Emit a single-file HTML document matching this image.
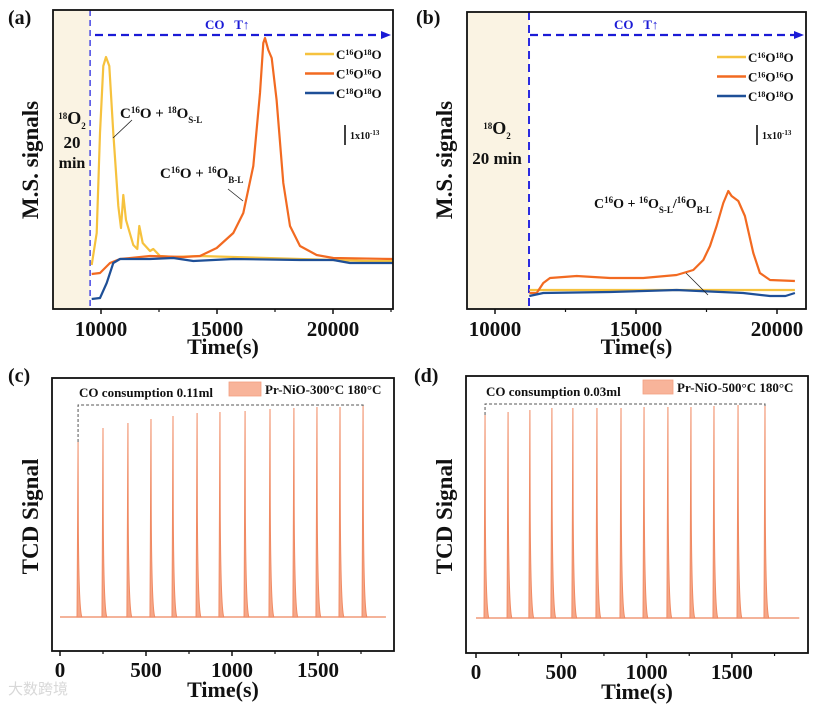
<!DOCTYPE html>
<html><head><meta charset="utf-8"><style>
html,body{margin:0;padding:0;background:#fff;}
svg{display:block;font-family:"Liberation Serif",serif;}
</style></head><body>
<svg id="fig" width="818" height="710" viewBox="0 0 818 710" xmlns="http://www.w3.org/2000/svg"></svg>
<script>
// ---- Panel (a) data ----
const aYellowT=[9599,9814,9957,10100,10216,10359,10531,10747,10861,10963,11078,11394,11566,11653,11796,12112,12256,12543,13118,14267,15704,17141,20012,21448,22598];
const aYellowV=[44,76,176,243,252,243,176,103,81,114,89,64,60,83,66,58,60,53,52,53,52,51,49,48,48];
const aOrangeT=[9599,9957,10388,10819,12112,13548,14267,14985,15704,16134,16565,16852,16996,17068,17212,17356,17571,17859,18146,18577,19295,20012,22598];
const aOrangeV=[35,36,46,50,53,52,53,61,76,96,143,216,266,271,259,251,209,126,83,63,54,51,50];
const aBlueT=[9599,9957,10244,10531,10819,12112,13118,13980,15704,18577,20012,20730,22598];
const aBlueV=[10,11,26,46,50,50,51,48,50,49,49,46,46];
const aTicks=[10000,15000,20000];
// ---- Panel (b) data ----
const bOrangeT=[11217,11478,11714,11950,12897,14078,15259,16441,17032,17386,17623,17859,18095,18272,18390,18627,18863,19158,19395,19750,20636];
const bOrangeV=[16,16,26,31,33,31,31,34,39,49,63,83,106,118,113,108,93,56,36,29,28];
const bYellowT=[11217,20636];
const bYellowV=[19,19];
const bBlueT=[11217,11714,14078,16441,18800,19750,20300,20636];
const bBlueV=[13,16,17,19,16,13,13,16];
const bTicks=[10000,15000,20000];
// ---- Panel (c) data ----
const cPeakT=[105,250,395,529,657,797,930,1076,1221,1360,1494,1628,1762];
const cPeakH=[175,189,194,198,201,204,205,206,208,209,210,210,211];
const cTicks=[0,500,1000,1500];
// ---- Panel (d) data ----
const dPeakT=[53,188,316,445,568,709,850,985,1125,1260,1395,1536,1694];
const dPeakH=[203,206,208,210,210,210,210,211,211,211,212,213,213];
const dTicks=[0,500,1000,1500];

const NS="http://www.w3.org/2000/svg";
const svg=document.getElementById('fig');
function mk(tag,attrs,parent){const e=document.createElementNS(NS,tag);for(const k in attrs)e.setAttribute(k,attrs[k]);(parent||svg).appendChild(e);return e;}
function txt(x,y,html,size,anchor,parent,extra){const e=mk('text',Object.assign({x:x,y:y,'font-size':size,'font-weight':'bold','text-anchor':anchor||'start',fill:'#111'},extra||{}),parent);e.innerHTML=html;return e;}
function lin(d0,d1,r0,r1){return v=>r0+(v-d0)/(d1-d0)*(r1-r0);}

function frame(name){
  const g=mk('g',{});
  
  
  return g;
}
function axes(g,L,T,R,B,xs,ticks,minor,labelY,titleY,ytitle,ytx,yty){
  const ax=mk('g',{},g);
  
  
  ticks.forEach(t=>{mk('line',{x1:xs(t),x2:xs(t),y1:B,y2:B+5,stroke:'#111','stroke-width':1.5},ax);
    const l=txt(xs(t),labelY,String(t),21,'middle',ax);
    
    });
  minor.forEach(t=>{const x=xs(t);if(x>L&&x<R)mk('line',{x1:x,x2:x,y1:B,y2:B+3,stroke:'#111','stroke-width':1.2},ax);});
  const tt=txt((L+R)/2,titleY,'Time(s)',22,'middle',ax);
  
  
  const yt=txt(ytx,yty,ytitle,23,'middle',g,{transform:`rotate(-90 ${ytx} ${yty})`});
  
  
}
function series(g,T,V,xs,ys,color,name){
  const d=T.map((t,i)=>(i?'L':'M')+xs(t).toFixed(1)+','+ys(V[i]).toFixed(1)).join(' ');
  const p=mk('path',{d:d,fill:'none',stroke:color,'stroke-width':2.2,'stroke-linejoin':'round'},g);
  
  
}
function legendMS(g,x,y0,color3){
  const labels=['C<tspan baseline-shift="super" font-size="8">16</tspan>O<tspan baseline-shift="super" font-size="8">18</tspan>O','C<tspan baseline-shift="super" font-size="8">16</tspan>O<tspan baseline-shift="super" font-size="8">16</tspan>O','C<tspan baseline-shift="super" font-size="8">18</tspan>O<tspan baseline-shift="super" font-size="8">18</tspan>O'];
  const lg=mk('g',{},g);
  
  
  labels.forEach((l,i)=>{const y=y0+i*19.5;
    const ln=mk('line',{x1:x,x2:x+29,y1:y,y2:y,stroke:color3[i],'stroke-width':2.5},lg);
    
    
    const t=txt(x+31,y+5,l,13,'start',lg);
    
    });
}
function scaleBar(g,x,y){
  mk('line',{x1:x,x2:x,y1:y,y2:y+20,stroke:'#111','stroke-width':1.6},g);
  const t=txt(x+5,y+14,'1x10<tspan baseline-shift="super" font-size="7">-13</tspan>',10,'start',g);
  
  
}
function coArrow(g,x0,x1,y,tx){
  const a=mk('line',{x1:x0,x2:x1-8,y1:y,y2:y,stroke:'#1b1bd6','stroke-width':2.2,'stroke-dasharray':'8,5'},g);
  
  
  mk('polygon',{points:`${x1},${y} ${x1-10},${y-4} ${x1-10},${y+4}`,fill:'#1b1bd6'},g);
  const t=txt(tx,y-6,'CO&#160;&#160;&#160;T<tspan font-size="13">&#8593;</tspan>',13,'start',g,{fill:'#1b1bd6'});
  
  
}
const YEL='#f6c23e',ORG='#f26a21',BLU='#1e4f97';
const ss='baseline-shift="super" font-size="9"', sb='baseline-shift="sub" font-size="9"';

// ===== Panel A =====
(function(){
  const L=53,R=393,T=10,B=309;
  const g=frame('panel-a');
  const xs=lin(10000,15000,101,217), ys=v=>B-v;
  mk('rect',{x:L,y:T,width:xs(9530)-L,height:B-T,fill:'#faf3e3'},g);
  mk('line',{x1:xs(9530),x2:xs(9530),y1:T,y2:B,stroke:'#2a2ae0','stroke-width':1.3,'stroke-dasharray':'6,4'},g);
  series(g,aYellowT,aYellowV,xs,ys,YEL,'series-c16o18o');
  series(g,aOrangeT,aOrangeV,xs,ys,ORG,'series-c16o16o');
  series(g,aBlueT,aBlueV,xs,ys,BLU,'series-c18o18o');
  mk('rect',{x:L,y:T,width:R-L,height:B-T,fill:'none',stroke:'#111','stroke-width':1.8},g);
  coArrow(g,95,391,35,205);
  legendMS(g,305,54,[YEL,ORG,BLU]);
  scaleBar(g,345,125);
  txt(72,124,'<tspan '+ss+'>18</tspan>O<tspan '+sb+'>2</tspan>',18,'middle',g);
  txt(72,148,'20',17,'middle',g);txt(72,168,'min',16,'middle',g);
  txt(120,118,'C<tspan '+ss+'>16</tspan>O + <tspan '+ss+'>18</tspan>O<tspan '+sb+'>S-L</tspan>',15,'start',g);
  mk('line',{x1:113,y1:138,x2:132,y2:120,stroke:'#222','stroke-width':0.8},g);
  txt(160,178,'C<tspan '+ss+'>16</tspan>O + <tspan '+ss+'>16</tspan>O<tspan '+sb+'>B-L</tspan>',15,'start',g);
  mk('line',{x1:243,y1:201,x2:228,y2:189,stroke:'#222','stroke-width':0.8},g);
  axes(g,L,T,R,B,xs,aTicks,[12500,17500,22500],336,354,'M.S. signals',38,160);
  txt(8,24,'(a)',20,'start',g);
})();

// ===== Panel B =====
(function(){
  const L=467,R=806,T=12,B=309;
  const g=frame('panel-b');
  const xs=lin(10000,15000,495,636), ys=v=>B-v;
  mk('rect',{x:L,y:T,width:xs(11206)-L,height:B-T,fill:'#faf3e3'},g);
  mk('line',{x1:xs(11206),x2:xs(11206),y1:T,y2:B,stroke:'#2a2ae0','stroke-width':2,'stroke-dasharray':'8,5'},g);
  series(g,bYellowT,bYellowV,xs,ys,YEL,'series-c16o18o');
  series(g,bOrangeT,bOrangeV,xs,ys,ORG,'series-c16o16o');
  series(g,bBlueT,bBlueV,xs,ys,BLU,'series-c18o18o');
  mk('rect',{x:L,y:T,width:R-L,height:B-T,fill:'none',stroke:'#111','stroke-width':1.8},g);
  coArrow(g,530,804,35,614);
  legendMS(g,717,57,[YEL,ORG,BLU]);
  scaleBar(g,757,125);
  txt(497,134,'<tspan '+ss+'>18</tspan>O<tspan '+sb+'>2</tspan>',18,'middle',g);
  txt(497,164,'20 min',17,'middle',g);
  txt(594,208,'C<tspan '+ss+'>16</tspan>O + <tspan '+ss+'>16</tspan>O<tspan '+sb+'>S-L</tspan>/<tspan '+ss+'>16</tspan>O<tspan '+sb+'>B-L</tspan>',14,'start',g);
  mk('line',{x1:708,y1:295,x2:686,y2:273,stroke:'#222','stroke-width':0.8},g);
  axes(g,L,T,R,B,xs,bTicks,[12500,17500],336,354,'M.S. signals',452,160);
  txt(416,24,'(b)',20,'start',g);
})();

// ===== Panels C & D =====
function tcd(cfg){
  const g=frame(cfg.name);
  const L=cfg.L,R=cfg.R,T=cfg.T,B=cfg.B,base=cfg.base;
  const PT=cfg.PT,PH=cfg.PH;
  const xs=lin(0,500,cfg.x0,cfg.x500), ys=v=>base-v;
  mk('line',{x1:xs(0),x2:xs(1895),y1:ys(0),y2:ys(0),stroke:'#f09a78','stroke-width':1.5},g);
  PT.forEach((t,i)=>{
    const h=PH[i];
    const d=`M${xs(t-6)},${ys(0)} L${xs(t)},${ys(h)} L${xs(t+1.5)},${ys(h*0.55)} Q${xs(t+4)},${ys(h*0.05)} ${xs(t+22)},${ys(0)} Z`;
    const p=mk('path',{d:d,fill:'#f6a788',stroke:'#f08a63','stroke-width':1},g);
    
    
  });
  mk('rect',{x:L,y:T,width:R-L,height:B-T,fill:'none',stroke:'#111','stroke-width':1.8},g);
  const px=xs(PT[0]), lx=xs(PT[PT.length-1]), ty=ys(Math.max(...PH))-1;
  mk('path',{d:`M${px},${ys(PH[0])} L${px},${ty} L${lx},${ty} L${lx},${ty+2}`,fill:'none',stroke:'#555','stroke-width':1,'stroke-dasharray':'3,2'},g);
  txt(px+1,ty-8,cfg.cons,13,'start',g);
  const lr=mk('rect',{x:cfg.legX,y:T+4,width:cfg.legW,height:14,fill:'#f8b49a',stroke:'#f3a081','stroke-width':0.8},g);
  
  
  const lt=txt(cfg.legX+cfg.legW+4,T+16,cfg.leg,13,'start',g);
  
  
  axes(g,L,T,R,B,xs,cfg.ticks,[250,750,1250,1750],cfg.labelY,cfg.titleY,'TCD Signal',cfg.ytx,(T+B)/2+2);
  txt(cfg.lx,cfg.ly,cfg.lab,20,'start',g);
}
tcd({name:'panel-c',L:52,R:394,T:378,B:651,base:617,x0:60,x500:146,PT:cPeakT,PH:cPeakH,ticks:cTicks,
  cons:'CO consumption 0.11ml',leg:'Pr-NiO-300°C 180°C',legX:229,legW:32,labelY:677,titleY:697,ytx:38,lab:'(c)',lx:8,ly:382});
tcd({name:'panel-d',L:466,R:808,T:376,B:653,base:618,x0:476,x500:561.3,PT:dPeakT,PH:dPeakH,ticks:dTicks,
  cons:'CO consumption 0.03ml',leg:'Pr-NiO-500°C 180°C',legX:643,legW:30,labelY:679,titleY:699,ytx:452,lab:'(d)',lx:414,ly:382});

const wm=txt(8,694,'大数跨境',15,'start',svg,{fill:'#d8d8d8','font-family':'"Liberation Sans","Noto Sans CJK SC",sans-serif','font-weight':'normal'});


</script>
</body></html>
